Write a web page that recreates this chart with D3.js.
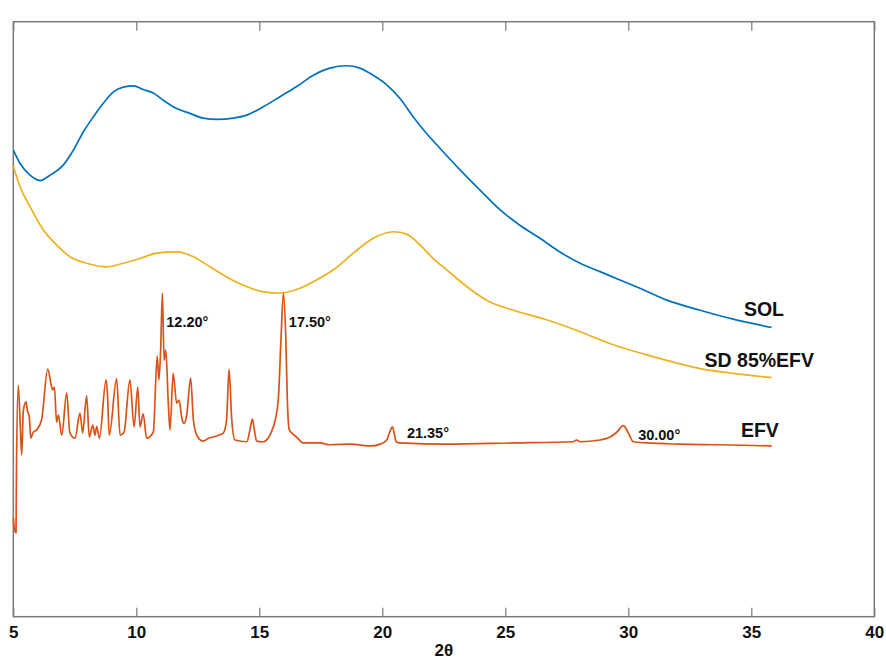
<!DOCTYPE html>
<html>
<head>
<meta charset="utf-8">
<script src="https://cdn.jsdelivr.net/npm/d3@7"></script>
<style>
  html, body { margin: 0; padding: 0; background: #fff; }
  svg { display: block; }
  text { font-family: "Liberation Sans", Arial, Helvetica, sans-serif; font-weight: bold; fill: #111; }
</style>
</head>
<body>
<svg id="chart" width="886" height="661"></svg>
<script>
// ---- data (2θ in degrees, intensity in arbitrary units) ----
const xTicks = [5, 10, 15, 20, 25, 30, 35, 40];

const solTheta = [5.00, 5.27, 5.68, 6.09, 6.49, 7.03, 7.44, 7.85, 8.25, 8.66, 9.07, 9.47, 9.88, 10.28, 10.69, 11.10, 11.64, 12.18, 12.72, 13.27, 13.94, 14.49, 15.16, 15.84, 16.52, 17.20, 17.87, 18.55, 19.09, 19.63, 20.18, 20.72, 21.26, 21.80, 22.35, 23.16, 23.97, 24.78, 25.59, 26.41, 27.22, 28.04, 28.85, 29.66, 30.47, 31.57, 32.92, 34.26, 35.83];
const solInt   = [78.4, 76.2, 74.2, 73.3, 74.2, 75.9, 78.4, 81.5, 84.0, 86.3, 88.2, 89.0, 89.2, 88.6, 88.0, 86.8, 85.4, 84.6, 83.8, 83.6, 83.8, 84.3, 85.7, 87.4, 89.1, 91.0, 92.2, 92.6, 92.2, 91.0, 89.4, 87.1, 84.0, 81.2, 78.7, 75.1, 71.7, 68.4, 65.8, 63.6, 61.3, 59.4, 58.0, 56.6, 55.2, 53.2, 51.5, 50.0, 48.6];

const sdTheta = [5.00, 5.27, 5.68, 6.22, 6.76, 7.30, 7.98, 8.80, 9.47, 10.15, 10.83, 11.64, 12.32, 13.00, 13.67, 14.35, 15.16, 15.84, 16.65, 17.33, 18.01, 18.82, 19.63, 20.45, 20.99, 21.53, 22.07, 22.62, 23.43, 24.24, 25.33, 26.68, 28.04, 29.39, 30.75, 32.10, 32.92, 34.27, 35.83];
const sdInt   = [75.7, 72.3, 68.9, 65.0, 62.5, 60.5, 59.4, 58.8, 59.4, 60.2, 61.1, 61.3, 60.5, 58.8, 57.1, 55.7, 54.6, 54.4, 55.2, 56.6, 58.3, 61.1, 63.6, 64.7, 64.3, 62.5, 60.2, 58.3, 55.5, 53.2, 51.5, 49.9, 47.9, 45.7, 44.0, 42.5, 41.7, 40.9, 40.2];

const efvTheta = [5.00, 5.05, 5.11, 5.13, 5.20, 5.27, 5.34, 5.41, 5.52, 5.57, 5.65, 5.71, 5.81, 5.95, 6.15, 6.40, 6.56, 6.61, 6.67, 6.76, 6.83, 6.97, 7.17, 7.30, 7.51, 7.71, 7.82, 7.98, 8.09, 8.23, 8.32, 8.39, 8.50, 8.77, 8.83, 8.90, 9.20, 9.34, 9.50, 9.74, 9.91, 10.06, 10.15, 10.28, 10.42, 10.69, 10.85, 10.92, 10.99, 11.06, 11.13, 11.20, 11.30, 11.37, 11.50, 11.64, 11.74, 11.85, 11.94, 12.05, 12.21, 12.32, 12.46, 12.72, 12.93, 13.13, 13.33, 13.54, 13.67, 13.77, 13.88, 14.01, 14.49, 14.62, 14.72, 14.80, 14.89, 15.16, 15.57, 15.77, 15.88, 15.98, 16.08, 16.14, 16.22, 16.52, 16.79, 17.47, 17.87, 18.69, 19.57, 19.91, 20.18, 20.30, 20.41, 20.50, 20.56, 20.72, 22.62, 25.31, 27.75, 27.90, 28.04, 28.85, 29.26, 29.53, 29.80, 30.00, 30.20, 30.75, 32.10, 33.73, 35.83];
const efvInt   = [16.6, 14.6, 14.1, 25.2, 38.9, 33.6, 27.2, 34.7, 36.1, 34.7, 33.6, 30.0, 31.0, 31.4, 33.1, 41.6, 38.6, 38.1, 38.6, 32.7, 33.9, 30.5, 37.6, 30.9, 30.0, 34.2, 30.9, 37.1, 30.2, 32.2, 30.5, 32.0, 30.0, 39.8, 37.3, 30.5, 40.0, 30.5, 31.0, 39.8, 31.9, 38.6, 31.9, 34.1, 30.0, 31.0, 43.8, 39.8, 44.8, 54.4, 43.1, 44.8, 35.9, 31.4, 40.9, 35.9, 36.4, 33.4, 32.5, 33.9, 40.1, 33.1, 30.5, 29.5, 30.0, 30.2, 30.5, 30.9, 33.1, 41.6, 33.1, 29.7, 29.4, 31.4, 33.2, 31.4, 29.5, 29.4, 31.9, 36.4, 46.5, 54.4, 46.5, 36.4, 31.4, 30.2, 29.2, 29.2, 28.9, 29.0, 28.7, 29.0, 29.7, 31.0, 31.9, 30.5, 29.4, 29.2, 29.0, 29.2, 29.4, 29.7, 29.4, 29.7, 30.2, 31.0, 32.1, 30.9, 29.4, 29.2, 29.0, 28.9, 28.7];

const seriesNames  = ["SOL", "SD 85%EFV", "EFV"];
const seriesColors = ["#0072BD", "#EDB120", "#D95319"];

const peakLabels = ["12.20°", "17.50°", "21.35°", "30.00°"];
const peakTheta  = [11.22, 16.20, 21.00, 30.40];
const peakInt    = [48.7, 48.7, 30.0, 29.7];

// ---- layout ----
const padL = 13.3, padR = 874.3, padT = 21.7, padB = 616.7;

const svg = d3.select("#chart");
const x = d3.scaleLinear().domain([5, 40]).range([padL, padR]);
const y = d3.scaleLinear().domain([0, 100]).range([padB, padT]);

// frame
svg.append("rect")
  .attr("x", padL).attr("y", padT)
  .attr("width", padR - padL).attr("height", padB - padT)
  .attr("fill", "none").attr("stroke", "#7a7a7a").attr("stroke-width", 1.5);

// bottom axis (ticks inward)
const gx = svg.append("g").attr("transform", `translate(0,${padB})`)
  .call(d3.axisBottom(x).tickValues(xTicks).tickSizeInner(-9).tickSizeOuter(0).tickPadding(9.3).tickFormat(d3.format("d")));
gx.select(".domain").remove();
gx.selectAll(".tick line").attr("stroke", "#7a7a7a").attr("stroke-width", 1.2);
gx.selectAll(".tick text").style("font-size", "17px").style("font-weight", "bold")
  .attr("fill", "#111").style("font-family", "'Liberation Sans', Arial, sans-serif");

// top axis (ticks inward, no labels)
const gt = svg.append("g").attr("transform", `translate(0,${padT})`)
  .call(d3.axisTop(x).tickValues(xTicks).tickSizeInner(-9).tickSizeOuter(0).tickFormat(""));
gt.select(".domain").remove();
gt.selectAll(".tick line").attr("stroke", "#7a7a7a").attr("stroke-width", 1.2);

// x label
svg.append("text").attr("x", (padL + padR) / 2).attr("y", 656)
  .attr("text-anchor", "middle").style("font-size", "17px").text("2θ");

// lines
const line = d3.line().x(d => x(d[0])).y(d => y(d[1])).curve(d3.curveMonotoneX);
const data = [
  d3.zip(solTheta, solInt),
  d3.zip(sdTheta, sdInt),
  d3.zip(efvTheta, efvInt)
];
data.forEach((pts, i) => {
  svg.append("path")
    .attr("d", line(pts))
    .attr("fill", "none")
    .attr("stroke", seriesColors[i])
    .attr("stroke-width", 1.7)
    .attr("stroke-linejoin", "round");
});

// series labels
const nameTheta = [34.70, 33.10, 34.58];
const nameInt   = [50.5, 42.0, 30.2];
seriesNames.forEach((n, i) => {
  svg.append("text").attr("x", x(nameTheta[i])).attr("y", y(nameInt[i]))
    .style("font-size", "19.5px").text(n);
});

// peak labels
peakLabels.forEach((t, i) => {
  svg.append("text").attr("x", x(peakTheta[i])).attr("y", y(peakInt[i]))
    .style("font-size", "14.5px").text(t);
});
</script>
</body>
</html>
